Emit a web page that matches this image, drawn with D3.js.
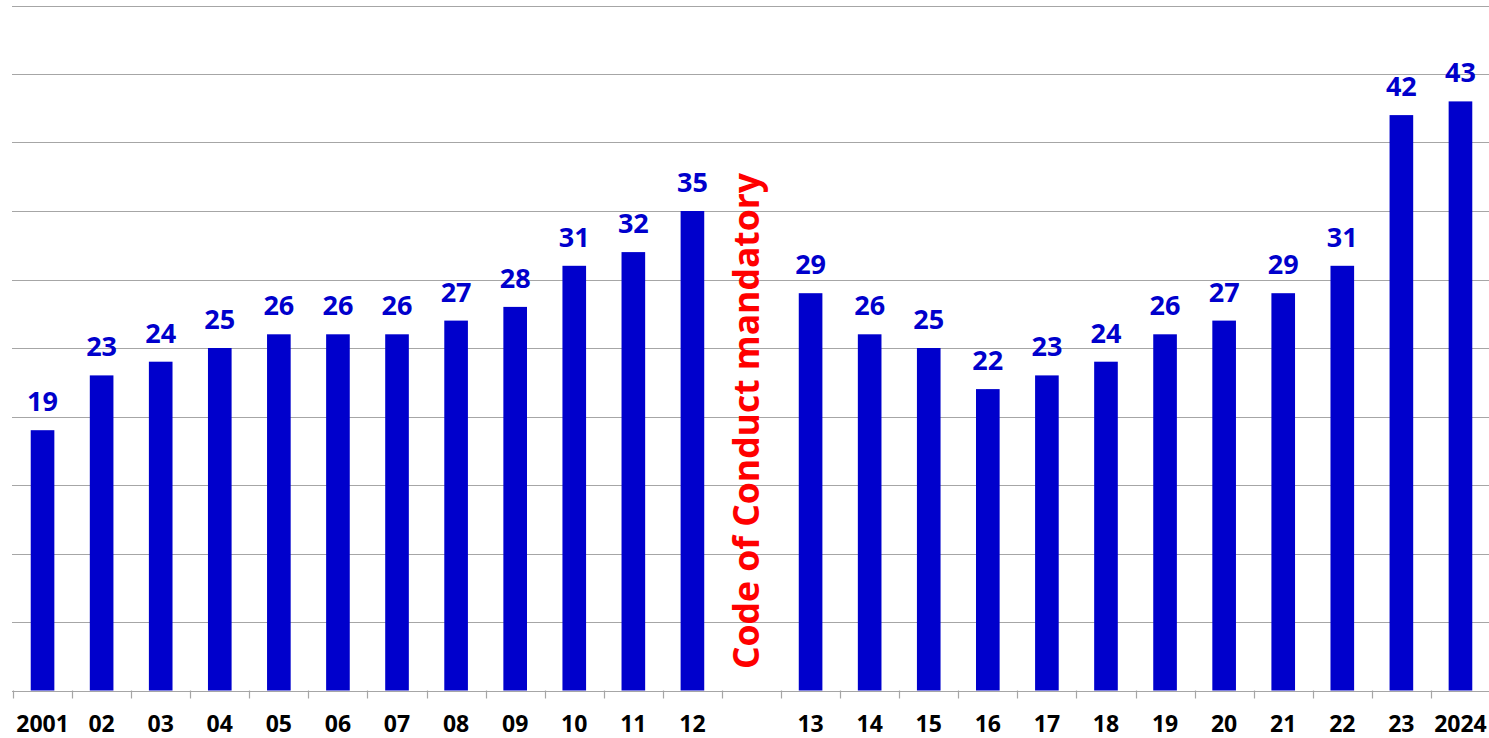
<!DOCTYPE html>
<html><head><meta charset="utf-8">
<script src="https://cdn.jsdelivr.net/npm/d3@7"></script>
<style>
html,body{margin:0;padding:0;background:#fff;}
svg{display:block;}
text{font-family:"Open Sans",sans-serif;font-weight:700;}
</style></head>
<body>
<svg id="chart" width="1489" height="738"></svg>
<script>
const categories = ["2001","02","03","04","05","06","07","08","09","10","11","12","gap","13","14","15","16","17","18","19","20","21","22","23","2024"];
const values = [19,23,24,25,26,26,26,27,28,31,32,35,null,29,26,25,22,23,24,26,27,29,31,42,43];
const yTicks = [0,5,10,15,20,25,30,35,40,45,50];
const noteText = "Code of Conduct mandatory";
const noteCategory = "gap";

const svg = d3.select("#chart");
const W = 1489, H = 738;
const x = d3.scaleBand().domain(categories).range([13, 1490]).paddingInner(0.6).paddingOuter(0.3);
const y = d3.scaleLinear().domain([0, 50]).range([690.5, 5.5]);
const blue = "#0000CC";

// gridlines
svg.append("g").selectAll("line").data(yTicks).join("line")
  .attr("x1", 12).attr("x2", W)
  .attr("y1", d => Math.round(y(d)) + 0.5).attr("y2", d => Math.round(y(d)) + 0.5)
  .attr("stroke", "#A6A6A6").attr("stroke-width", 1.2);

// bars
const data = categories.map((c, i) => ({c, v: values[i]})).filter(d => d.v != null);
svg.append("g").selectAll("rect").data(data).join("rect")
  .attr("x", d => x(d.c)).attr("width", x.bandwidth())
  .attr("y", d => y(d.v)).attr("height", d => y(0) - y(d.v))
  .attr("fill", blue);

// value labels
svg.append("g").selectAll("text").data(data).join("text")
  .attr("x", d => x(d.c) + x.bandwidth() / 2)
  .attr("y", d => y(d.v) - 19)
  .attr("text-anchor", "middle")
  .attr("font-size", 27)
  .attr("fill", blue)
  .text(d => d.v);

// axis line + boundary ticks
const off = (x.step() - x.bandwidth()) / 2;
const bounds = categories.map(c => x(c) - off);
svg.append("line").attr("x1", 12).attr("x2", W)
  .attr("y1", Math.round(y(0)) + 0.5).attr("y2", Math.round(y(0)) + 0.5)
  .attr("stroke", "#A6A6A6").attr("stroke-width", 1.2);
svg.append("g").selectAll("line").data(bounds).join("line")
  .attr("x1", d => Math.round(d) + 0.5).attr("x2", d => Math.round(d) + 0.5)
  .attr("y1", y(0)).attr("y2", y(0) + 8)
  .attr("stroke", "#A6A6A6").attr("stroke-width", 1.2);

// category labels
svg.append("g").selectAll("text").data(categories.filter(c => c !== noteCategory)).join("text")
  .attr("x", d => x(d) + x.bandwidth() / 2)
  .attr("y", 732)
  .attr("text-anchor", "middle")
  .attr("font-size", 23)
  .attr("fill", "#000")
  .text(d => d);

// note text
const nx = x(noteCategory) + x.bandwidth() / 2;
svg.append("text")
  .attr("transform", `translate(${nx + 7},669) rotate(-90)`)
  .attr("text-anchor", "start")
  .attr("font-size", 35.5)
  .attr("fill", "#FF0000")
  .text(noteText);
</script>
</body></html>
